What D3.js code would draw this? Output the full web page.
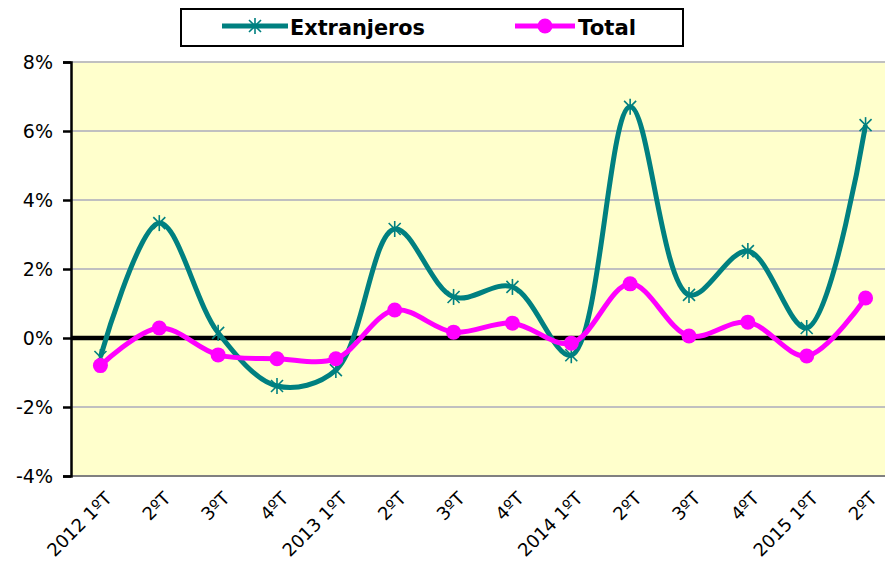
<!DOCTYPE html>
<html>
<head>
<meta charset="utf-8">
<script src="https://cdn.jsdelivr.net/npm/d3@7/dist/d3.min.js"></script>
<style>
  body { margin: 0; background: #fff; }
  text { font-family: "DejaVu Sans", Verdana, sans-serif; }
</style>
</head>
<body>
<div id="chart"></div>
<script>
var svgWidth = 885;
var svgHeight = 581;

// quarters and values (%)
var quarters = ["2012 1ºT", "2ºT", "3ºT", "4ºT", "2013 1ºT", "2ºT", "3ºT", "4ºT",
                "2014 1ºT", "2ºT", "3ºT", "4ºT", "2015 1ºT", "2ºT"];
var extranjeros = [-0.55, 3.33, 0.15, -1.39, -0.93, 3.16, 1.19, 1.48, -0.5, 6.7, 1.25, 2.52, 0.29, 6.17];
var total = [-0.8, 0.29, -0.49, -0.6, -0.6, 0.81, 0.17, 0.43, -0.15, 1.57, 0.06, 0.46, -0.52, 1.16];
var yTicks = [-4, -2, 0, 2, 4, 6, 8];

var plot = { left: 71, top: 62, right: 895, bottom: 476 };

var svg = d3.select("#chart").append("svg")
  .attr("width", svgWidth)
  .attr("height", svgHeight);

var keys = d3.range(quarters.length);

var xScale = d3.scaleBand()
  .domain(keys)
  .range([plot.left, plot.right]);

var yScale = d3.scaleLinear()
  .domain([-4, 8])
  .range([plot.bottom, plot.top]);

var xc = i => xScale(i) + xScale.bandwidth() / 2;

// plot background
svg.append("rect")
  .attr("x", plot.left).attr("y", plot.top)
  .attr("width", plot.right - plot.left).attr("height", plot.bottom - plot.top)
  .attr("fill", "#ffffcc");

// grid lines
svg.append("g").selectAll("line").data(yTicks.filter(d => d !== 0 && d !== -4)).enter()
  .append("line")
  .attr("x1", plot.left).attr("x2", plot.right)
  .attr("y1", d => yScale(d)).attr("y2", d => yScale(d))
  .attr("stroke", "#c0c0c0").attr("stroke-width", 2);

// bottom border
svg.append("line")
  .attr("x1", plot.left).attr("x2", plot.right)
  .attr("y1", plot.bottom).attr("y2", plot.bottom)
  .attr("stroke", "#808080").attr("stroke-width", 2);

// y axis
var yAxis = d3.axisLeft(yScale)
  .tickValues(yTicks)
  .tickSize(8)
  .tickPadding(10)
  .tickFormat(d => d + "%");

var yAxisGroup = svg.append("g")
  .attr("transform", `translate(${plot.left}, 0)`)
  .call(yAxis);
yAxisGroup.select(".domain").attr("stroke", "#000").attr("stroke-width", 2.5);
yAxisGroup.selectAll(".tick line").attr("stroke", "#000").attr("stroke-width", 2.5);
yAxisGroup.selectAll(".tick text")
  .style("font-size", "19px")
  .style("font-family", "'DejaVu Sans', Verdana, sans-serif")
  .attr("fill", "#000");

// zero line
svg.append("line")
  .attr("x1", plot.left).attr("x2", plot.right)
  .attr("y1", yScale(0)).attr("y2", yScale(0))
  .attr("stroke", "#000").attr("stroke-width", 4.5);

// x labels
svg.append("g").selectAll("text").data(keys).enter()
  .append("text")
  .attr("transform", d => `translate(${xc(d) + 3}, ${plot.bottom + 14}) rotate(-45)`)
  .attr("text-anchor", "end")
  .attr("dy", "0.75em")
  .style("font-size", "18px")
  .text(d => quarters[d]);

// lines
var line = d3.line()
  .x((d, i) => xc(i))
  .y(d => yScale(d))
  .curve(d3.curveCatmullRom.alpha(0.5));

svg.append("path")
  .datum(extranjeros)
  .attr("d", line)
  .attr("fill", "none")
  .attr("stroke", "#008080")
  .attr("stroke-width", 5);

svg.append("path")
  .datum(total)
  .attr("d", line)
  .attr("fill", "none")
  .attr("stroke", "#ff00ff")
  .attr("stroke-width", 5);

function star(g, size) {
  var s = size / 2;
  var d = s * 0.75;
  g.append("line").attr("x1", 0).attr("x2", 0).attr("y1", -s).attr("y2", s);
  g.append("line").attr("x1", -d).attr("x2", d).attr("y1", -d).attr("y2", d);
  g.append("line").attr("x1", -d).attr("x2", d).attr("y1", d).attr("y2", -d);
}

// star markers
svg.append("g").selectAll("g").data(extranjeros).enter()
  .append("g")
  .attr("transform", (d, i) => `translate(${xc(i)}, ${yScale(d)})`)
  .attr("stroke", "#008080")
  .attr("stroke-width", 1.6)
  .each(function() { star(d3.select(this), 16); });

// circle markers
svg.append("g").selectAll("circle").data(total).enter()
  .append("circle")
  .attr("cx", (d, i) => xc(i))
  .attr("cy", d => yScale(d))
  .attr("r", 7.5)
  .attr("fill", "#ff00ff");

// legend
var legend = svg.append("g");
legend.append("rect")
  .attr("x", 181).attr("y", 9)
  .attr("width", 502).attr("height", 37)
  .attr("fill", "#fff")
  .attr("stroke", "#000")
  .attr("stroke-width", 2);

legend.append("line")
  .attr("x1", 222).attr("x2", 288).attr("y1", 26).attr("y2", 26)
  .attr("stroke", "#008080").attr("stroke-width", 5);
var lstar = legend.append("g")
  .attr("transform", "translate(255, 26)")
  .attr("stroke", "#008080").attr("stroke-width", 1.6);
star(lstar, 16);
legend.append("text")
  .attr("x", 290).attr("y", 35)
  .style("font-size", "21px").style("font-weight", "bold")
  .attr("textLength", 135).attr("lengthAdjust", "spacingAndGlyphs")
  .text("Extranjeros");

legend.append("line")
  .attr("x1", 515).attr("x2", 575).attr("y1", 26).attr("y2", 26)
  .attr("stroke", "#ff00ff").attr("stroke-width", 5);
legend.append("circle")
  .attr("cx", 545).attr("cy", 26).attr("r", 7.5)
  .attr("fill", "#ff00ff");
legend.append("text")
  .attr("x", 578).attr("y", 35)
  .style("font-size", "21px").style("font-weight", "bold")
  .attr("textLength", 58).attr("lengthAdjust", "spacingAndGlyphs")
  .text("Total");
</script>
</body>
</html>
